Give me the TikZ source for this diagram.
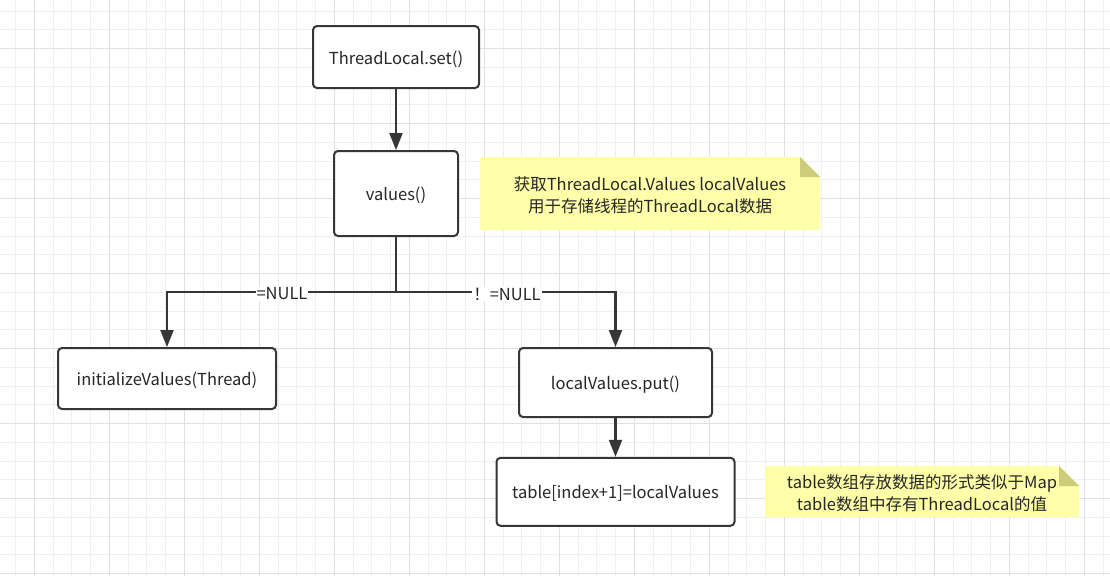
\documentclass[tikz,border=0pt]{standalone}
\usepackage{fontspec}
\setmainfont{Noto Sans CJK SC}
\usetikzlibrary{arrows.meta}
\definecolor{lineC}{HTML}{363636}
\definecolor{textC}{HTML}{262626}
\definecolor{gridMinor}{HTML}{F0F0F0}
\definecolor{gridMajor}{HTML}{E0E0E0}
\definecolor{noteC}{HTML}{FFFFAA}
\definecolor{foldC}{HTML}{CCCC7A}
\tikzset{
  box/.style={draw=lineC, line width=2pt, rounded corners=4pt, fill=white,
    inner sep=0pt, outer sep=1pt, text=textC, text height=14pt, text depth=0pt,
    font=\fontsize{16.5}{19}\selectfont},
  conn/.style={draw=lineC, line width=2.2pt},
  arr/.style={-{Triangle[width=13pt,length=17pt]}},
  lbl/.style={fill=white, inner sep=1pt, text=textC, font=\fontsize{16.5}{19}\selectfont},
  notetext/.style={align=center, inner sep=0pt, text=textC, font=\fontsize{16.5}{22}\selectfont},
}
\begin{document}
\begin{tikzpicture}[x=1pt,y=-1pt]
\useasboundingbox (0,0) rectangle (1110,576);
\fill[white] (0,0) rectangle (1110,576);
% grid
\foreach \i in {0,...,58} \draw[gridMinor, line width=1pt] ({15.55+18.75*\i},0) -- ++(0,576);
\foreach \i in {0,...,30} \draw[gridMinor, line width=1pt] (0,{11.2+18.75*\i}) -- ++(1110,0);
\foreach \i in {0,...,14} \draw[gridMajor, line width=1pt] ({34.3+75*\i},0) -- ++(0,576);
\foreach \i in {0,...,7} \draw[gridMajor, line width=1pt] (0,{48.7+75*\i}) -- ++(1110,0);

% nodes
\node[box, minimum width=166pt, minimum height=62pt] (set) at (396,57) {ThreadLocal.set()};
\node[box, minimum width=124pt, minimum height=85pt] (values) at (396,193.5) {values()};
\node[box, minimum width=218pt, minimum height=61pt] (init) at (167,378.5) {initializeValues(Thread)};
\node[box, minimum width=193pt, minimum height=69pt] (put) at (615.5,382.5) {localValues.put()};
\node[box, minimum width=238pt, minimum height=68pt] (table) at (615.5,491.8) {table[index+1]=localValues};
\coordinate (j) at (396,292);

% connectors
\draw[conn, arr] (set) -- (values);
\draw[conn] (values) -- (j);
\draw[conn, arr] (j) -| (init);
\draw[conn, arr] (j) -| (put);
\draw[conn, arr] (put) -- (table);
\node[lbl] (l1) at (282,294) {=NULL};
\node[lbl] (l2) at (507,294) {！=NULL};

% notes
\fill[noteC] (480,157) -- (800,157) -- (820,177) -- (820,230) -- (480,230) -- cycle;
\fill[foldC] (800,157) -- (800,177) -- (820,177) -- cycle;
\node[notetext] (n1) at (650,195) {获取ThreadLocal.Values localValues\\用于存储线程的ThreadLocal数据};
\fill[noteC] (765,466) -- (1059,466) -- (1079,486) -- (1079,517) -- (765,517) -- cycle;
\fill[foldC] (1059,466) -- (1059,486) -- (1079,486) -- cycle;
\node[notetext] (n2) at (922,493) {table数组存放数据的形式类似于Map\\table数组中存有ThreadLocal的值};
\end{tikzpicture}
\end{document}
